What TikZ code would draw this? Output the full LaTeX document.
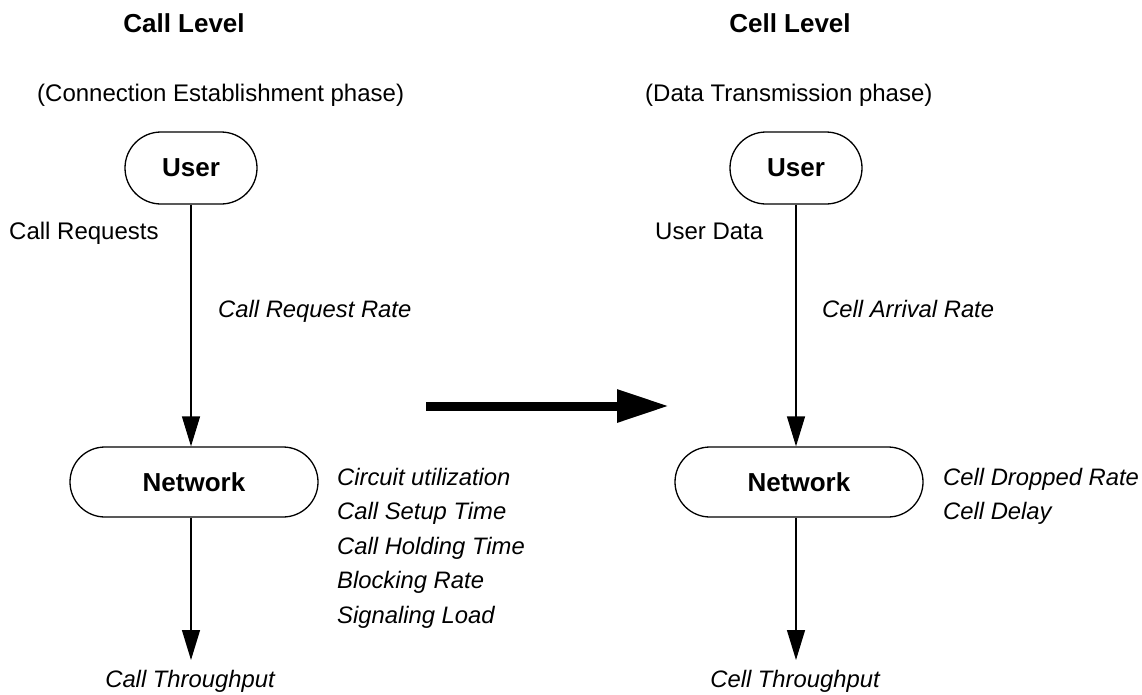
\documentclass[tikz,border=0pt]{standalone}
\usepackage{fontspec}
\setmainfont{Liberation Sans}
\usetikzlibrary{arrows.meta,shapes.misc}
\begin{document}
\begin{tikzpicture}[x=1pt,y=-1pt,
  lbl/.style={inner sep=0pt,font=\fontsize{24}{28}\selectfont},
  ilbl/.style={inner sep=0pt,font=\fontsize{23.8}{28}\selectfont\itshape},
  ttl/.style={inner sep=0pt,font=\fontsize{26}{30}\selectfont\bfseries},
  pill/.style={draw,line width=1.3pt,rounded rectangle,minimum height=72pt,
    font=\fontsize{26}{30}\selectfont\bfseries,inner sep=0pt},
  arr/.style={line width=1.3pt,-{Triangle[length=30pt,width=18pt]}},
  bigarr/.style={line width=9pt,-{Triangle[length=52pt,width=31pt]}}]
\fill[white] (0,0) rectangle (1142,694);
\useasboundingbox (0,0) rectangle (1142,694);

% titles
\node[ttl,anchor=base] (t1) at (184,32) {Call Level};
\node[ttl,anchor=base] (t2) at (790,32) {Cell Level};
\node[lbl,anchor=base west] (p1) at (37,101) {(Connection Establishment phase)};
\node[lbl,anchor=base west] (p2) at (645,101) {(Data Transmission phase)};

% left column
\node[pill,minimum width=132pt] (u1) at (191,168) {User};
\node[pill,minimum width=248pt,minimum height=70pt] (n1) at (194,482) {Network};
\coordinate (e1) at (191,660);
\draw[arr] (u1.south) -- (u1.south |- n1.north);
\draw[arr] (u1.south |- n1.south) -- (e1);
\node[lbl,anchor=base west] (cr) at (9,239) {Call Requests};
\node[ilbl,anchor=base west] (crr) at (218,317) {Call Request Rate};
\node[ilbl,anchor=base west] (m1) at (337,485) {Circuit utilization};
\node[ilbl,anchor=base west] (m2) at (337,519.5) {Call Setup Time};
\node[ilbl,anchor=base west] (m3) at (337,554) {Call Holding Time};
\node[ilbl,anchor=base west] (m4) at (337,588.5) {Blocking Rate};
\node[ilbl,anchor=base west] (m5) at (337,623) {Signaling Load};
\node[ilbl,anchor=base] (ct) at (190,687) {Call Throughput};

% transition arrow
\coordinate (a1) at (426,406);
\coordinate (a2) at (669,406);
\draw[bigarr] (a1) -- (a2);

% right column
\node[pill,minimum width=132pt] (u2) at (796,168) {User};
\node[pill,minimum width=248pt,minimum height=70pt] (n2) at (799,482) {Network};
\coordinate (e2) at (796,660);
\draw[arr] (u2.south) -- (u2.south |- n2.north);
\draw[arr] (u2.south |- n2.south) -- (e2);
\node[lbl,anchor=base west] (ud) at (655,239) {User Data};
\node[ilbl,anchor=base west] (car) at (822,317) {Cell Arrival Rate};
\node[ilbl,anchor=base west] (r1) at (943,485) {Cell Dropped Rate};
\node[ilbl,anchor=base west] (r2) at (943,519) {Cell Delay};
\node[ilbl,anchor=base] (cth) at (795,687) {Cell Throughput};
\end{tikzpicture}
\end{document}
